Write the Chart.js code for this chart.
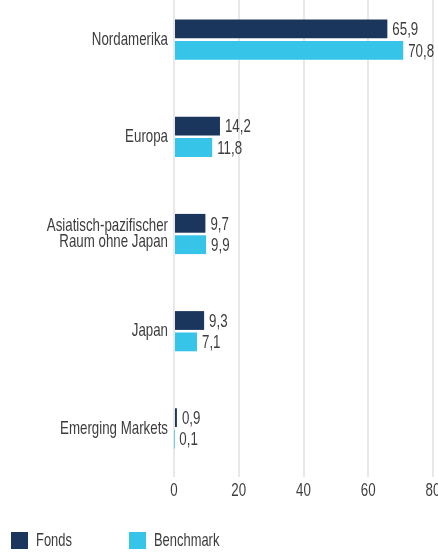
<!DOCTYPE html>
<html><head><meta charset="utf-8">
<script src="https://cdn.jsdelivr.net/npm/chart.js@4/dist/chart.umd.min.js"></script>
<style>
html,body{margin:0;padding:0;width:438px;height:554px;overflow:hidden;background:#fff;}
#wrap{position:absolute;left:0;top:-9px;width:441px;height:516px;}
#legend{position:absolute;left:0;top:0;width:438px;height:554px;pointer-events:none;font-family:'Liberation Sans',Arial,sans-serif;font-size:19px;color:#3d3d3d;}
.item{position:absolute;top:532px;height:17px;}
.sw{position:absolute;left:0;top:0;width:17px;height:17px;}
.tx{position:absolute;left:25px;top:-3px;line-height:22px;white-space:nowrap;transform:scaleX(0.68);transform-origin:0 50%;}
</style></head>
<body>
<div id="wrap"><canvas id="c"></canvas></div>
<div id="legend"></div>
<script>
const categories = ['Nordamerika', 'Europa', ['Asiatisch-pazifischer', 'Raum ohne Japan'], 'Japan', 'Emerging Markets'];
const seriesNames = ['Fonds', 'Benchmark'];
const fondsValues = [65.9, 14.2, 9.7, 9.3, 0.9];
const benchmarkValues = [70.8, 11.8, 9.9, 7.1, 0.1];
const xTicks = [0, 20, 40, 60, 80];

const FONT = "'Liberation Sans', Arial, sans-serif";
const FSIZE = 19;
const K = 0.7; // horizontal condensing of text (reference uses a condensed face)
const TEXT = '#3d3d3d';
const colors = ['#1b365d', '#36c4e8'];
const fmt = v => v.toFixed(1).replace('.', ',');

// Condense all canvas text horizontally around its anchor point
const cv = document.getElementById('c');
const c2 = cv.getContext('2d');
const origFill = c2.fillText.bind(c2);
const origMeasure = c2.measureText.bind(c2);
c2.fillText = function (t, x, y) {
  this.save(); this.translate(x, y); this.scale(K, 1); origFill(t, 0, 0); this.restore();
};
c2.measureText = function (t) {
  const m = origMeasure(t);
  return {
    width: m.width * K,
    actualBoundingBoxAscent: m.actualBoundingBoxAscent,
    actualBoundingBoxDescent: m.actualBoundingBoxDescent,
    actualBoundingBoxLeft: m.actualBoundingBoxLeft * K,
    actualBoundingBoxRight: m.actualBoundingBoxRight * K,
    fontBoundingBoxAscent: m.fontBoundingBoxAscent,
    fontBoundingBoxDescent: m.fontBoundingBoxDescent
  };
};

const valueLabels = {
  id: 'valueLabels',
  afterDatasetsDraw(chart) {
    const ctx = chart.ctx;
    ctx.save();
    ctx.font = FSIZE + 'px ' + FONT;
    ctx.fillStyle = TEXT;
    ctx.textAlign = 'left';
    ctx.textBaseline = 'middle';
    chart.data.datasets.forEach((ds, i) => {
      const meta = chart.getDatasetMeta(i);
      meta.data.forEach((el, j) => {
        ctx.fillText(fmt(ds.data[j]), el.x + 5, el.y + 1);
      });
    });
    ctx.restore();
  }
};

const chart = new Chart(cv, {
  type: 'bar',
  data: {
    labels: categories,
    datasets: [
      { label: seriesNames[0], data: fondsValues, backgroundColor: colors[0], borderWidth: 0,
        categoryPercentage: 0.44, barPercentage: 0.88 },
      { label: seriesNames[1], data: benchmarkValues, backgroundColor: colors[1], borderWidth: 0,
        categoryPercentage: 0.44, barPercentage: 0.88 }
    ]
  },
  options: {
    indexAxis: 'y',
    responsive: true,
    maintainAspectRatio: false,
    animation: false,
    layout: { padding: 0 },
    plugins: { legend: { display: false }, tooltip: { enabled: false } },
    scales: {
      x: {
        min: xTicks[0], max: xTicks[xTicks.length - 1],
        afterBuildTicks: s => { s.ticks = xTicks.map(v => ({ value: v })); },
        ticks: { color: TEXT, font: { family: FONT, size: FSIZE }, padding: 2, maxRotation: 0,
          callback: v => String(v) },
        grid: { color: '#e8e8e8', lineWidth: 2, drawTicks: false },
        border: { display: false },
        afterFit: s => { s.height = 30; s.paddingLeft = 0; s.paddingRight = 8; }
      },
      y: {
        ticks: { color: TEXT, font: { family: FONT, size: FSIZE, lineHeight: 0.84 }, padding: 6 },
        grid: { display: false, drawTicks: false },
        border: { display: false },
        afterFit: s => { s.width = 174; s.paddingTop = 0; s.paddingBottom = 0; }
      }
    }
  },
  plugins: [valueLabels]
});

// HTML legend built from the chart's datasets
const legendLefts = [11, 129];
const lg = document.getElementById('legend');
chart.data.datasets.forEach((ds, i) => {
  const it = document.createElement('div');
  it.className = 'item';
  it.style.left = legendLefts[i] + 'px';
  it.innerHTML = '<span class="sw" style="background:' + ds.backgroundColor + '"></span><span class="tx">' + ds.label + '</span>';
  lg.appendChild(it);
});
</script>
</body></html>
